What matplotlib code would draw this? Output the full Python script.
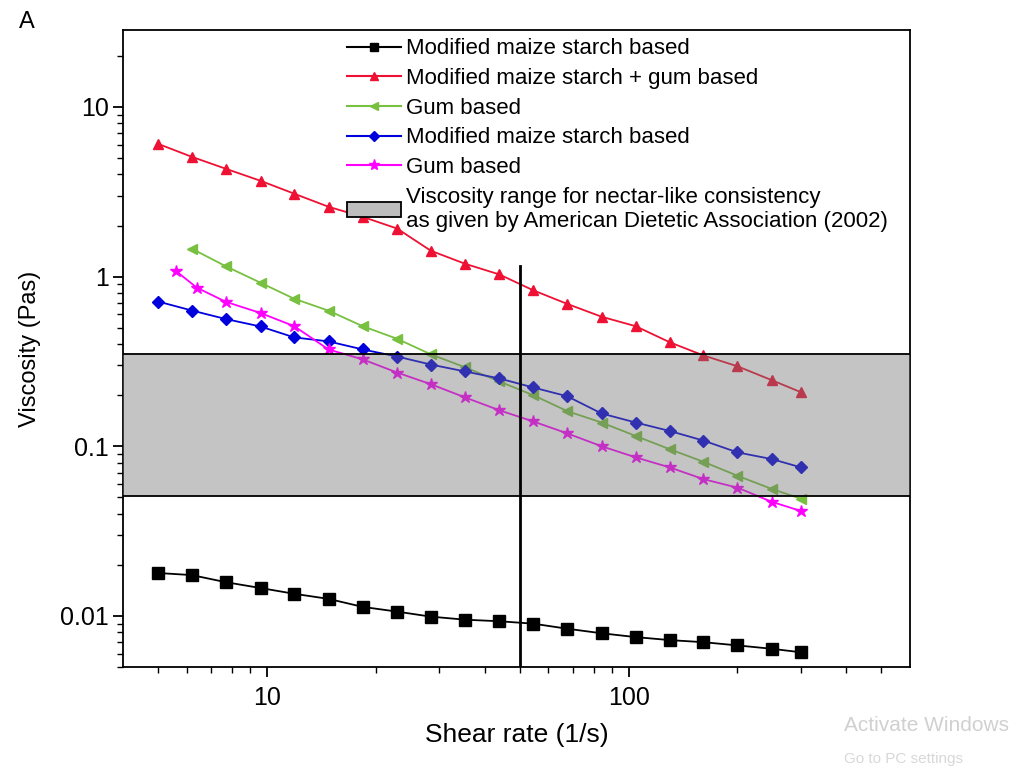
import matplotlib
matplotlib.use('Agg')
import matplotlib.pyplot as plt
from matplotlib.ticker import LogLocator, NullFormatter, FixedLocator
from matplotlib.patches import Patch
from matplotlib.lines import Line2D

plt.rcParams['font.family'] = ['Liberation Sans', 'DejaVu Sans']

# shear rate (1/s)
shear = [5, 6.2, 7.7, 9.6, 11.9, 14.8, 18.4, 22.9, 28.4, 35.3,
         43.9, 54.5, 67.7, 84.2, 104.6, 130, 161, 200, 249, 300]
shear_gum2 = [5.6, 6.4, 7.7, 9.6, 11.9, 14.8, 18.4, 22.9, 28.4, 35.3,
              43.9, 54.5, 67.7, 84.2, 104.6, 130, 161, 200, 249, 300]

# viscosity (Pa s)
visc_starch = [0.0179, 0.0174, 0.0158, 0.0146, 0.0135, 0.0126, 0.0113, 0.0106, 0.0099, 0.0095,
               0.0093, 0.0090, 0.0084, 0.0079, 0.0075, 0.0072, 0.0070, 0.0067, 0.0064, 0.0061]
visc_starch_gum = [6.06, 5.08, 4.32, 3.67, 3.08, 2.58, 2.25, 1.92, 1.42, 1.19,
                   1.03, 0.83, 0.69, 0.58, 0.51, 0.41, 0.343, 0.296, 0.245, 0.208]
visc_gum = [1.46, 1.15, 0.92, 0.74, 0.63, 0.51, 0.43, 0.348, 0.292, 0.241,
            0.200, 0.161, 0.138, 0.115, 0.096, 0.081, 0.067, 0.056, 0.049]
visc_starch2 = [0.713, 0.631, 0.562, 0.508, 0.438, 0.415, 0.372, 0.338, 0.303, 0.276,
                0.251, 0.222, 0.197, 0.156, 0.138, 0.123, 0.108, 0.092, 0.084, 0.075]
visc_gum2 = [1.08, 0.86, 0.71, 0.61, 0.51, 0.372, 0.325, 0.272, 0.232, 0.194,
             0.163, 0.140, 0.119, 0.100, 0.086, 0.075, 0.064, 0.057, 0.047, 0.0415]

labels = ['Modified maize starch based', 'Modified maize starch + gum based', 'Gum based',
          'Modified maize starch based', 'Gum based',
          'Viscosity range for nectar-like consistency\nas given by American Dietetic Association (2002)']
nectar_range = (0.051, 0.35)
cutoff_rate = 50

fig = plt.figure(figsize=(10.32, 7.76), dpi=100)
ax = fig.add_axes([0.1192, 0.1405, 0.7626, 0.8208])

ax.plot(shear, visc_starch, color='black', marker='s', ms=8, lw=1.3, zorder=3)
ax.plot(shear, visc_starch_gum, color='#ee1133', marker='^', ms=7, lw=1.3, zorder=3)
ax.plot(shear[1:], visc_gum, color='#77c040', marker='<', ms=7, lw=1.3, zorder=3)
ax.plot(shear, visc_starch2, color='#0000dd', marker='D', ms=6, lw=1.3, zorder=3)
ax.plot(shear_gum2, visc_gum2, color='#ff00ff', marker='*', ms=9, lw=1.3, zorder=3)

# nectar-like band, drawn over the curves
ax.axhspan(nectar_range[0], nectar_range[1], facecolor=(0.45, 0.45, 0.45, 0.42),
           edgecolor='none', zorder=4)
ax.axhline(nectar_range[0], color='black', lw=1.3, zorder=5)
ax.axhline(nectar_range[1], color='black', lw=1.3, zorder=5)

ax.plot([cutoff_rate, cutoff_rate], [0.005, 1.15], color='black', lw=2, zorder=6)

ax.set_xscale('log')
ax.set_yscale('log')
ax.set_xlim(4, 600)
ax.set_ylim(0.005, 28.4)

ax.xaxis.set_major_locator(FixedLocator([10, 100]))
ax.set_xticklabels(['10', '100'])
ax.xaxis.set_minor_locator(FixedLocator([5, 6, 7, 8, 9, 20, 30, 40, 50, 60, 70, 80, 90,
                                         200, 300, 400, 500]))
ax.xaxis.set_minor_formatter(NullFormatter())
ax.yaxis.set_major_locator(FixedLocator([0.01, 0.1, 1, 10]))
ax.set_yticklabels(['0.01', '0.1', '1', '10'])
ax.yaxis.set_minor_locator(LogLocator(base=10, subs=range(2, 10)))
ax.yaxis.set_minor_formatter(NullFormatter())

ax.tick_params(which='major', direction='out', length=7, width=1.3, labelsize=18, pad=3)
ax.tick_params(axis='x', which='major', pad=7)
ax.tick_params(which='minor', direction='out', length=4, width=1.0)
for s in ax.spines.values():
    s.set_linewidth(1.3)

ax.set_xlabel('Shear rate (1/s)', fontsize=19, labelpad=9)
ax.set_ylabel('Viscosity (Pas)', fontsize=17, labelpad=14)

handles = [
    Line2D([], [], color='black', marker='s', ms=6, lw=1.5),
    Line2D([], [], color='#ee1133', marker='^', ms=6, lw=1.5),
    Line2D([], [], color='#77c040', marker='<', ms=6, lw=1.5),
    Line2D([], [], color='#0000dd', marker='D', ms=5, lw=1.5),
    Line2D([], [], color='#ff00ff', marker='*', ms=8, lw=1.5),
    Patch(facecolor='#bdbdbd', edgecolor='black', lw=1.3),
]
fig.legend(handles, labels, loc='upper left', bbox_to_anchor=(0.328, 0.962),
           frameon=False, fontsize=16, handlelength=2.4, handletextpad=0.25,
           labelspacing=0.39, borderaxespad=0)

fig.text(0.018, 0.972, 'A', fontsize=17, ha='left', va='center')

# screenshot watermark
fig.text(0.818, 0.065, 'Activate Windows', fontsize=15, color='#d0d0d0', ha='left', va='center')
fig.text(0.818, 0.022, 'Go to PC settings', fontsize=11, color='#d8d8d8', ha='left', va='center')

fig.savefig('out.png', dpi=100)
